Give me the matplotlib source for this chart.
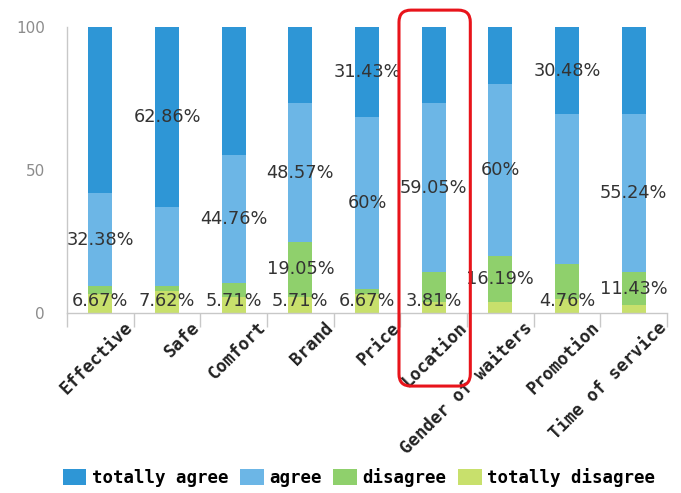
import numpy as np
import matplotlib
matplotlib.use('Agg')
import matplotlib.pyplot as plt
import matplotlib.transforms as mtransforms
from matplotlib.patches import FancyBboxPatch

# survey answers per item, in percent (105 respondents)
categories = ['Effective', 'Safe', 'Comfort', 'Brand', 'Price', 'Location',
              'Gender of waiters', 'Promotion', 'Time of service']
totally_disagree = [6.67, 7.62, 5.71, 5.71, 6.67, 3.81, 3.81, 4.76, 2.86]
disagree = [2.86, 1.90, 4.76, 19.05, 1.90, 10.48, 16.19, 12.38, 11.43]
agree = [32.38, 27.62, 44.76, 48.57, 60.00, 59.05, 60.00, 52.38, 55.24]
totally_agree = [58.09, 62.86, 44.77, 26.67, 31.43, 26.66, 20.00, 30.48, 30.47]

# which segments carry a value label, per item
labelled = [['td', 'a'], ['td', 'ta'], ['td', 'a'], ['td', 'd', 'a'],
            ['td', 'a', 'ta'], ['td', 'a'], ['d', 'a'], ['td', 'ta'], ['d', 'a']]
highlight = 'Location'

series = [
    ('td', 'totally disagree', totally_disagree, '#c8e06c'),
    ('d', 'disagree', disagree, '#8fd06c'),
    ('a', 'agree', agree, '#6cb6e6'),
    ('ta', 'totally agree', totally_agree, '#2e96d6'),
]

fig = plt.figure(figsize=(6.81, 4.93), dpi=100)
ax = fig.add_axes([0.0984, 0.365, 0.881, 0.580])

x = np.arange(len(categories))
bottom = np.zeros(len(categories))
bars = {}
for key, name, vals, color in series:
    vals = np.array(vals)
    bars[key] = ax.bar(x, vals, width=0.36, bottom=bottom, color=color,
                       label=name, zorder=2)
    for i in range(len(categories)):
        if key in labelled[i]:
            y = max(bottom[i] + vals[i] / 2, 4.3)
            ax.text(x[i], y, f'{vals[i]:g}%', ha='center', va='center',
                    fontsize=12.8, color='#333333', zorder=3)
    bottom += vals

ax.set_xlim(-0.5, len(categories) - 0.5)
ax.set_ylim(0, 100)
ax.set_yticks([0, 50, 100])
ax.tick_params(axis='y', length=0, pad=16, labelsize=11, labelcolor='#8c8c8c')

# category names at bar centres, separator ticks at the boundaries
ax.set_xticks(x)
ax.set_xticks(np.arange(len(categories) + 1) - 0.5, minor=True)
ax.tick_params(axis='x', which='major', length=0, pad=4)
ax.tick_params(axis='x', which='minor', length=10, color='#c8c8c8', width=1)
ax.set_xticklabels(categories, rotation=45, ha='right', rotation_mode='anchor',
                   fontsize=12.5, fontweight='bold', family='DejaVu Sans Mono',
                   color='#222222')
shift = mtransforms.ScaledTranslation(0.235, 0, fig.dpi_scale_trans)
for lab in ax.get_xticklabels():
    lab.set_transform(lab.get_transform() + shift)

for side in ['top', 'right']:
    ax.spines[side].set_visible(False)
for side in ['left', 'bottom']:
    ax.spines[side].set_color('#c8c8c8')
    ax.spines[side].set_linewidth(1)

# red rounded frame around the highlighted item (figure inches)
hi = categories.index(highlight)
to_inch = ax.transData + fig.dpi_scale_trans.inverted()
(x0, y0) = to_inch.transform((hi - 0.52, 0))
(x1, y1) = to_inch.transform((hi + 0.55, 100))
y0 -= 0.73
y1 += 0.17
frame = FancyBboxPatch((x0, y0), x1 - x0, y1 - y0,
                       boxstyle='round,pad=0,rounding_size=0.12',
                       transform=fig.dpi_scale_trans, fill=False,
                       edgecolor='#e8141b', linewidth=2.2, clip_on=False,
                       zorder=5)
fig.add_artist(frame)

handles = [bars['ta'], bars['a'], bars['d'], bars['td']]
names = ['totally agree', 'agree', 'disagree', 'totally disagree']
fig.legend(handles, names, loc='center', bbox_to_anchor=(0.527, 0.032),
           ncol=4, frameon=False, handlelength=1.35, handleheight=1.05,
           handletextpad=0.3, columnspacing=0.7,
           prop={'family': 'DejaVu Sans Mono', 'weight': 'bold', 'size': 12.5})

fig.savefig('out.png', dpi=100)
